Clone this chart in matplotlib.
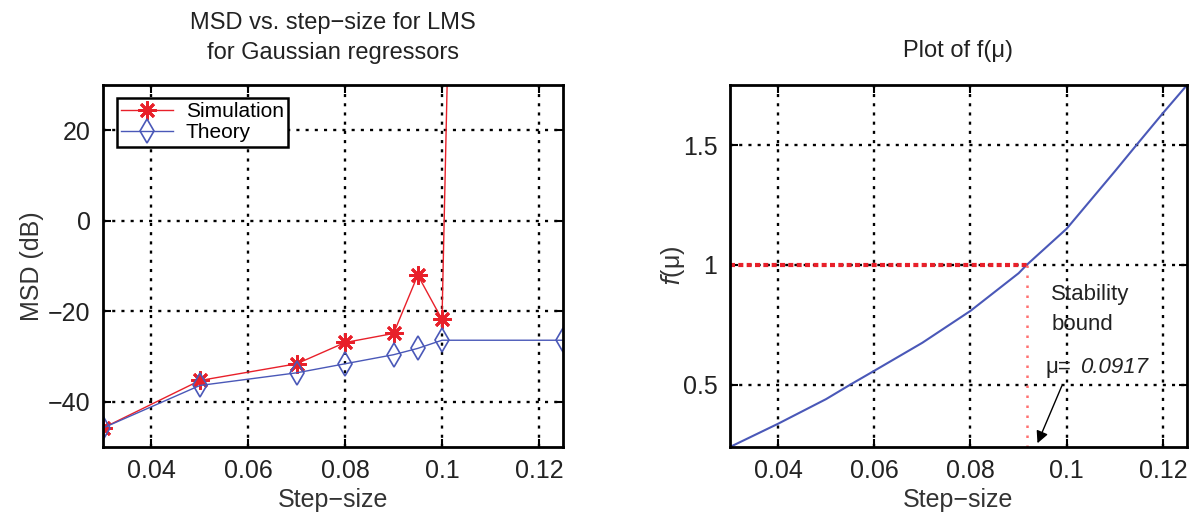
#!/usr/bin/env python3
# -*- coding: utf-8 -*-
"""
MSD vs. step-size for LMS (Gaussian regressors) and the plot of f(mu)
with the stability bound marked.
"""

import matplotlib
matplotlib.use('Agg')
import matplotlib.pyplot as plt

plt.rcParams['font.family'] = ['Liberation Sans', 'DejaVu Sans']

# Left panel data.
step_sim = [0.03, 0.05, 0.07, 0.08, 0.09, 0.095, 0.10, 0.125]
msd_sim = [-45.8, -35.3, -31.6, -26.9, -24.9, -12.0, -21.8, 1200.0]
step_th = [0.03, 0.05, 0.07, 0.08, 0.09, 0.095, 0.10, 0.125]
msd_th = [-45.8, -36.4, -33.6, -31.6, -29.6, -28.2, -26.4, -26.4]

# Right panel data.
mu = [0.03, 0.04, 0.05, 0.055, 0.06, 0.07, 0.08, 0.09, 0.0917, 0.10, 0.11, 0.1145, 0.12, 0.125]
f_mu = [0.24, 0.337, 0.44, 0.50, 0.558, 0.675, 0.808, 0.965, 1.0, 1.151, 1.39, 1.5, 1.633, 1.75]
mu_bound = 0.0917

xticks = [0.04, 0.06, 0.08, 0.1, 0.12]
xticklabels = ['0.04', '0.06', '0.08', '0.1', '0.12']

red = '#e8202a'
blue = '#4a58b8'
grid_kw = dict(color='black', linestyle=(0, (1.3, 2.6)), linewidth=1.7)

fig = plt.figure(figsize=(11.98, 5.17), dpi=100)
ax1 = fig.add_axes([0.086, 0.1354, 0.384, 0.700])
ax2 = fig.add_axes([0.6093, 0.1354, 0.3815, 0.700])


def style_axes(ax):
    ax.tick_params(direction='in', top=True, right=True, length=6, width=1.5,
                   labelsize=18, pad=9, labelcolor='#222222')
    for s in ax.spines.values():
        s.set_linewidth(2.0)
    ax.grid(True, **grid_kw)
    ax.set_xticks(xticks)
    ax.set_xticklabels(xticklabels)
    ax.set_xlim(0.03, 0.125)
    ax.set_xlabel('Step\u2212size', fontsize=18, color='#333333', labelpad=3)


# Left: MSD vs step size.
ax1.plot(step_sim, msd_sim, color=red, marker=(8, 2, 0), markersize=13, linewidth=1.0,
         markeredgewidth=2.0, label='Simulation')
ax1.plot(step_th, msd_th, color=blue, marker='d', markersize=12, linewidth=1.0,
         markerfacecolor='none', markeredgecolor=blue, markeredgewidth=1.2, label='Theory')
ax1.set_ylim(-50, 30)
ax1.set_yticks([-40, -20, 0, 20])
style_axes(ax1)
ax1.set_ylabel('MSD (dB)', fontsize=18, color='#333333', labelpad=3)
ax1.set_title('MSD vs. step\u2212size for LMS\nfor Gaussian regressors', fontsize=17,
              pad=19, linespacing=1.45, color='#222222')
leg = ax1.legend(loc='upper left', bbox_to_anchor=(0.03, 0.964), borderaxespad=0,
                 fontsize=15, fancybox=False, edgecolor='black', framealpha=1,
                 handlelength=2.5, handletextpad=0.6, borderpad=0.2, labelspacing=0.1)
leg.get_frame().set_linewidth(1.8)

# Right: f(mu).
ax2.plot(mu, f_mu, color=blue, linewidth=1.5)
ax2.plot([0.03, mu_bound], [1, 1], color=red, linestyle=(0, (1.2, 0.8)), linewidth=3)
ax2.plot([mu_bound, mu_bound], [1, f_mu[0]], color='#ff7070', linestyle=(0, (1, 3)),
         linewidth=1.8)
ax2.set_ylim(f_mu[0], f_mu[-1])
ax2.set_yticks([0.5, 1, 1.5])
ax2.set_yticklabels(['0.5', '1', '1.5'])
style_axes(ax2)
ax2.set_ylabel('$f$(\u03bc)', fontsize=18, color='#333333', labelpad=-3)
ax2.set_title('Plot of f(\u03bc)', fontsize=17, pad=20, color='#222222')
ax2.text(0.0968, 0.852, 'Stability', fontsize=16, ha='left', va='baseline', color='#222222')
ax2.text(0.0968, 0.729, 'bound', fontsize=16, ha='left', va='baseline', color='#222222')
ax2.text(0.0956, 0.547, '\u03bc=', fontsize=16, ha='left', va='baseline', color='#222222')
ax2.text(0.1027, 0.547, '0.0917', fontsize=16, ha='left', va='baseline', style='italic',
         color='#222222')
ax2.annotate('', xy=(0.0937, 0.245), xytext=(0.0992, 0.505),
             arrowprops=dict(arrowstyle='-|>', color='black', lw=1.0,
                             mutation_scale=18))

plt.savefig('out.png', dpi=100)
